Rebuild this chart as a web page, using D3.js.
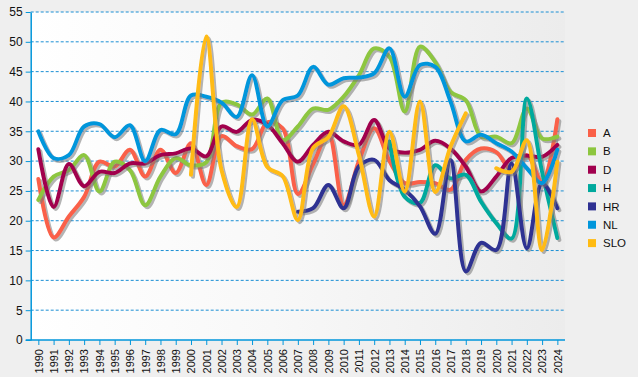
<!DOCTYPE html>
<html lang="en">
<head>
<meta charset="utf-8">
<script src="https://cdn.jsdelivr.net/npm/d3@7"></script>
<style>
  body { margin: 0; background: #efefef; }
  svg { display: block; font-family: "Liberation Sans", Arial, sans-serif; }
  .axis text { fill: #111; font-size: 11px; }
</style>
</head>
<body>
<div id="chart"></div>
<script>
let w = 638
let h = 377
let padding = { left: 30.7, right: 73, top: 12, bottom: 37 }

let years = ['1990','1991','1992','1993','1994','1995','1996','1997','1998','1999',
             '2000','2001','2002','2003','2004','2005','2006','2007','2008','2009',
             '2010','2011','2012','2013','2014','2015','2016','2017','2018','2019',
             '2020','2021','2022','2023','2024']
let yTicks = [0, 5, 10, 15, 20, 25, 30, 35, 40, 45, 50, 55]

let seriesNames = ['A', 'B', 'D', 'H', 'HR', 'NL', 'SLO']
let colors = ['#fa6048', '#8dc63f', '#a1004e', '#00a99d', '#2e3192', '#0096db', '#ffbb12']

let A = [27, 17.2, 20.7, 24, 29.9, 29.1, 31.9, 27.4, 31.9, 28, 33, 26, 34.2, 32.5, 32, 36.5, 35.5, 24.5, 29.5, 34.6,
         22.6, 30, 35.5, 30, 26.3, 26.5, 26.3, 25.2, 30.2, 32.1, 31.5, 28.5, 31, 26.5, 37]
let B = [23.5, 27.4, 28.5, 31, 24.9, 29.9, 28.5, 22.6, 27.4, 30.5, 29.3, 29.8, 39.8, 39.5, 37.8, 40.5, 33.5, 35.8, 38.8, 38.6,
         40.8, 44.4, 48.9, 47.5, 38.3, 49.2, 46.6, 41.6, 40.2, 34.1, 34.1, 33, 38.8, 33.8, 34.1]
let D = [32, 22.3, 29.5, 25.8, 28.2, 28, 29.6, 29.6, 31, 31.3, 32.1, 30.8, 35.8, 34.9, 36.9, 36.1, 33, 29.9, 32.7, 34.9,
         33.3, 32.7, 36.9, 32.1, 31.4, 31.9, 33.4, 32.1, 29.1, 24.9, 27.4, 30.5, 30.9, 30.7, 32.7]
let H = [null, null, null, null, null, null, null, null, null, null, null, null, null, null, null, null, null, null, null, null,
         null, null, null, 33.3, 24, 23, 29.3, 27.1, 27.7, 23.2, 19.6, 17, 40.5, 28.2, 17.1]
let HR = [null, null, null, null, null, null, null, null, null, null, null, null, null, null, null, null, null, 21.5, 22.1, 26,
          22.1, 29.1, 30.2, 26.8, 25.2, 22.4, 17.8, 30.2, 11.5, 16.3, 15.1, 29.6, 15.4, 26.3, 22.1]
let NL = [35, 30.5, 31, 35.8, 36.2, 34, 36, 30, 35.2, 34.5, 41, 40.8, 39.8, 37.4, 44.4, 35.8, 40.2, 41, 45.8, 42.8,
          43.9, 44, 44.7, 48.9, 40.8, 46.1, 45.8, 40, 33.3, 34.4, 33, 31.6, 28.8, 26.3, 31.9]
let SLO = [null, null, null, null, null, null, null, null, null, null, 27.7, 50.9, 28.5, 22.3, 37, 29, 27.5, 20.1, 32.2, 34,
           39.2, 31, 20.7, 34.9, 24.9, 40, 24.8, 32.4, 38, null, 28.8, 28.2, 33.5, 15.1, 29.9]

let seriesValues = [A, B, D, H, HR, NL, SLO]

let xScale = d3.scalePoint()
    .domain(years)
    .range([padding.left, w - padding.right])
    .padding(0.5)
let yScale = d3.scaleLinear()
    .domain([0, 55])
    .range([h - padding.bottom, padding.top])

let svg = d3.select('#chart')
    .append('svg')
    .attr('width', w)
    .attr('height', h)

let defs = svg.append('defs')
let grad = defs.append('linearGradient')
    .attr('id', 'plot-bg')
    .attr('x1', '0%').attr('x2', '100%')
    .attr('y1', '0%').attr('y2', '0%')
grad.append('stop').attr('offset', '0%').attr('stop-color', '#ffffff')
grad.append('stop').attr('offset', '45%').attr('stop-color', '#f8f8f8')
grad.append('stop').attr('offset', '100%').attr('stop-color', '#ececec')

let shadow = defs.append('filter')
    .attr('id', 'shadow')
    .attr('x', '-10%').attr('y', '-10%')
    .attr('width', '120%').attr('height', '120%')
shadow.append('feDropShadow')
    .attr('dx', 2).attr('dy', 2)
    .attr('stdDeviation', 0.6)
    .attr('flood-color', '#777')
    .attr('flood-opacity', 0.55)

svg.append('rect')
    .attr('x', padding.left)
    .attr('y', padding.top)
    .attr('width', w - padding.left - padding.right)
    .attr('height', h - padding.top - padding.bottom)
    .attr('fill', 'url(#plot-bg)')

// dotted grid lines
svg.append('g')
    .selectAll('line')
    .data(yTicks.filter(d => d > 0))
    .enter()
    .append('line')
    .attr('x1', padding.left)
    .attr('x2', w - padding.right)
    .attr('y1', d => yScale(d))
    .attr('y2', d => yScale(d))
    .attr('stroke', '#1b8fd4')
    .attr('stroke-width', 1)
    .attr('stroke-dasharray', '3,2')

let line = d3.line()
    .defined(d => d.v !== null)
    .x(d => xScale(d.year))
    .y(d => yScale(d.v))
    .curve(d3.curveCatmullRom.alpha(0.5))

seriesNames.forEach((name, i) => {
    let points = years.map((year, j) => ({ year: year, v: seriesValues[i][j] }))
    svg.append('path')
        .datum(points)
        .attr('class', 'series ' + name)
        .attr('d', line)
        .attr('fill', 'none')
        .attr('stroke', colors[i])
        .attr('stroke-width', 4)
        .attr('stroke-linejoin', 'round')
        .attr('stroke-linecap', 'round')
        .attr('filter', 'url(#shadow)')
})

let xAxis = d3.axisBottom(xScale)
    .tickSize(5)
    .tickSizeOuter(0)
let yAxis = d3.axisLeft(yScale)
    .tickValues(yTicks)
    .tickSize(5)
    .tickSizeOuter(0)
    .tickPadding(3)

let gx = svg.append('g')
    .attr('class', 'x-axis axis')
    .attr('transform', 'translate(0,' + (h - padding.bottom) + ')')
    .call(xAxis)
gx.select('.domain').attr('stroke', '#0096db').attr('stroke-width', 1.5)
    .attr('d', 'M' + (padding.left - 5) + ',0H' + (w - padding.right))
gx.selectAll('.tick line').attr('stroke', '#0096db')
gx.selectAll('.tick text')
    .attr('transform', 'rotate(-90)')
    .attr('text-anchor', 'end')
    .attr('x', -9)
    .attr('y', 0)
    .attr('dy', '0.35em')

let gy = svg.append('g')
    .attr('class', 'y-axis axis')
    .attr('transform', 'translate(' + padding.left + ',0)')
    .call(yAxis)
gy.select('.domain').attr('stroke', '#0096db').attr('stroke-width', 1.5)
gy.selectAll('.tick line').attr('stroke', '#0096db')
gy.selectAll('.tick text').style('font-size', '12px')

// legend
let legend = svg.append('g')
    .attr('transform', 'translate(588,133)')
let items = legend.selectAll('g')
    .data(seriesNames)
    .enter()
    .append('g')
    .attr('transform', (d, i) => 'translate(0,' + (i * 18.35) + ')')
items.append('rect')
    .attr('x', 0)
    .attr('y', -4)
    .attr('width', 8)
    .attr('height', 8)
    .attr('fill', (d, i) => colors[i])
items.append('text')
    .attr('x', 15)
    .attr('y', 0)
    .attr('dy', '0.36em')
    .style('font-size', '11.5px')
    .attr('fill', '#111')
    .text(d => d)
</script>
</body>
</html>
